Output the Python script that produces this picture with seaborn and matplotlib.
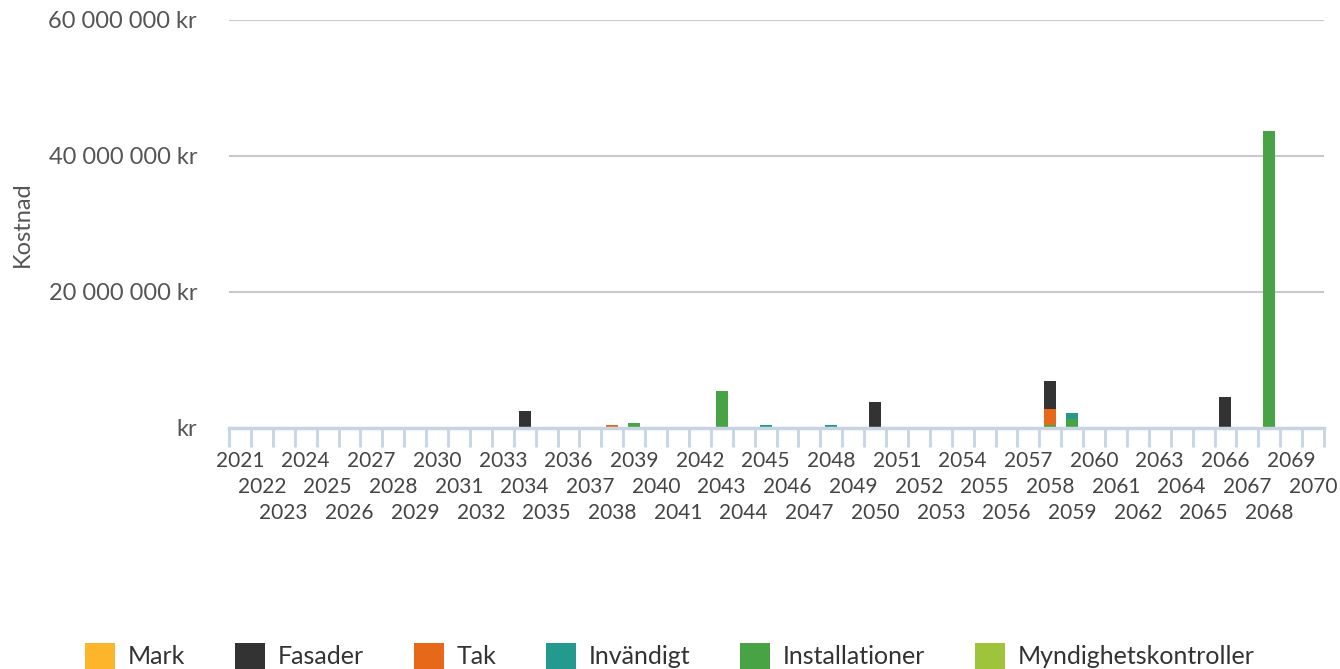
import numpy as np
import pandas as pd
import matplotlib
matplotlib.use("Agg")
import matplotlib.pyplot as plt
import seaborn as sns
from matplotlib.ticker import FuncFormatter

# ---- data ----
years = list(range(2021, 2071))
categories = ["Mark", "Fasader", "Tak", "Invändigt", "Installationer", "Myndighetskontroller"]
colors = ["#FDB52B", "#333333", "#E8681A", "#249A8F", "#47A343", "#9DC43A"]

mark = {}
fasader = {2034: 2.5e6, 2050: 3.7e6, 2058: 4.1e6, 2066: 4.55e6}
tak = {2038: 0.5e6, 2050: 0.08e6, 2058: 2.4e6}
invandigt = {2031: 0.12e6, 2045: 0.45e6, 2048: 0.4e6, 2059: 0.9e6, 2063: 0.12e6}
installationer = {2039: 0.8e6, 2043: 5.4e6, 2058: 0.4e6, 2059: 1.3e6, 2067: 0.12e6, 2068: 43.7e6}
myndighet = {}

series = [mark, fasader, tak, invandigt, installationer, myndighet]
yticks = [0, 20e6, 40e6, 60e6]

rows = []
for cat, s in zip(categories, series):
    for y in years:
        rows.append({"År": y, "Kategori": cat, "Kostnad": s.get(y, 0.0)})
df = pd.DataFrame(rows)

# ---- style ----
sns.set_theme(style="white")
plt.rcParams["font.family"] = ["Lato", "DejaVu Sans"]

fig = plt.figure(figsize=(13.4, 6.69), dpi=100)
ax = fig.add_axes([229 / 1340, 1 - 428 / 669, 1095 / 1340, 408 / 669])

sns.histplot(
    data=df, x="År", weights="Kostnad", hue="Kategori", hue_order=categories,
    palette=colors, multiple="stack", discrete=True, shrink=0.55,
    linewidth=0, alpha=1, ax=ax, legend=True,
)

ax.set_xlim(2020.5, 2070.5)
ax.set_ylim(0, 60e6)

# y axis
ax.set_yticks(yticks)
def fmt(v, pos):
    if v == 0:
        return "kr"
    return f"{int(v):,}".replace(",", " ") + " kr"
ax.yaxis.set_major_formatter(FuncFormatter(fmt))
ax.tick_params(axis="y", length=0, pad=23, labelsize=17, labelcolor="#555555")
ax.grid(axis="y", color="#c8c8c8", linewidth=1.5)
ax.set_axisbelow(True)
ax.set_ylabel("Kostnad", fontsize=17, color="#555555")
ax.yaxis.set_label_coords(-(229 - 33) / 1095, 0.5)

# x axis (three staggered rows of labels)
ax.set_xticks(years)
ax.set_xticklabels([str(y) for y in years])
ax.set_xticks(np.arange(2020.5, 2071.0, 1.0), minor=True)
ax.tick_params(axis="x", which="major", length=0, labelsize=15,
               labelcolor="#444444")
ax.tick_params(axis="x", which="minor", length=14, width=2, color="#c6d4e3",
               bottom=True)
for i, tk in enumerate(ax.xaxis.get_major_ticks()):
    tk.set_pad(16.5 + 18.7 * (i % 3))
ax.set_xlabel("")

for side in ["left", "right", "top"]:
    ax.spines[side].set_visible(False)
ax.spines["bottom"].set_color("#c6d4e3")
ax.spines["bottom"].set_linewidth(2.5)

sns.move_legend(
    ax, "center", bbox_to_anchor=((670 - 229) / 1095, (428 - 656) / 408),
    ncol=6, title=None, frameon=False, fontsize=18,
    handlelength=1.2, handleheight=1.2, handletextpad=0.5, columnspacing=2.0,
)
for t in ax.get_legend().get_texts():
    t.set_color("#333333")

fig.savefig("out.png", dpi=100)
